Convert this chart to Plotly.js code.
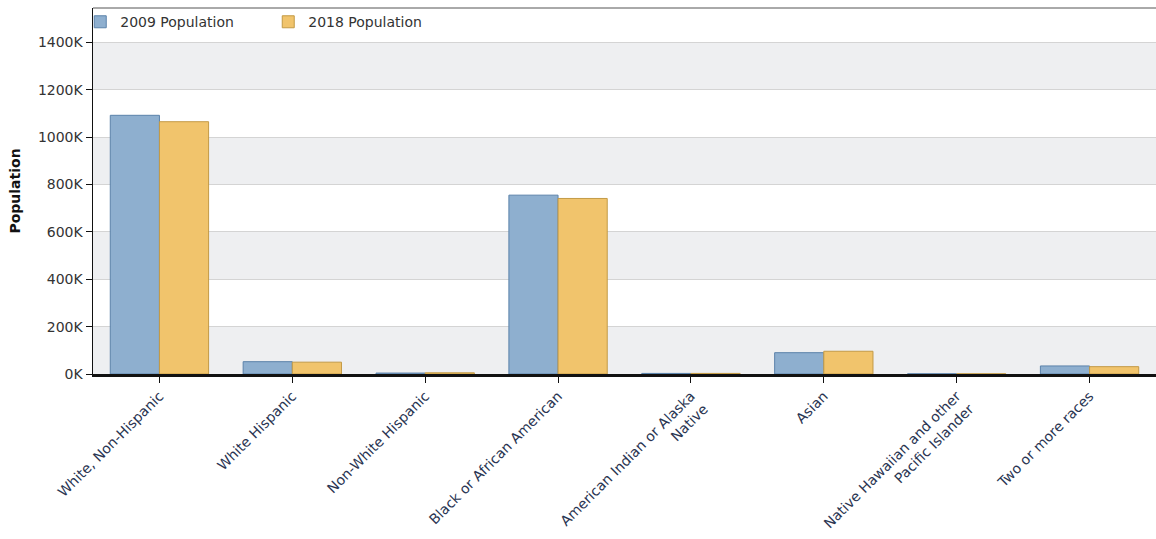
<!DOCTYPE html>
<html>
<head>
<meta charset="utf-8">
<script src="https://cdn.plot.ly/plotly-3.0.1.min.js"></script>
<style>html,body{margin:0;padding:0;background:#fff;}#chart{width:1156px;height:539px;}</style>
</head>
<body>
<div id="chart"></div>
<script>
const categories = [
  "White, Non-Hispanic",
  "White Hispanic",
  "Non-White Hispanic",
  "Black or African American",
  "American Indian or Alaska<br>Native",
  "Asian",
  "Native Hawaiian and other<br>Pacific Islander",
  "Two or more races"
];
const pop2009 = [1092000, 52000, 4000, 755000, 2500, 90000, 600, 34000];
const pop2018 = [1065000, 50000, 5000, 741000, 2500, 96000, 600, 31000];
const yTicks = [0, 200000, 400000, 600000, 800000, 1000000, 1200000, 1400000];
const yTickLabels = ["0K", "200K", "400K", "600K", "800K", "1000K", "1200K", "1400K"];
const yMax = 1545000;

// alternating background bands between ticks
const shapes = [];
const bandEdges = yTicks.concat([yMax]);
for (let i = 0; i < bandEdges.length - 1; i++) {
  if (i % 2 === 0) {
    shapes.push({type: 'rect', xref: 'paper', yref: 'y', x0: 0, x1: 1,
      y0: bandEdges[i], y1: bandEdges[i + 1], fillcolor: '#eeeff1',
      line: {width: 0}, layer: 'below'});
  }
}
// plot frame top edge
shapes.push({type: 'line', xref: 'paper', yref: 'paper', x0: 0, x1: 1, y0: 1, y1: 1,
  line: {color: '#555', width: 1}});

const traces = [
  {type: 'bar', name: '2009 Population', x: categories, y: pop2009,
   marker: {color: '#8eafcf', line: {color: '#5b82aa', width: 1}}},
  {type: 'bar', name: '2018 Population', x: categories, y: pop2018,
   marker: {color: '#f1c46c', line: {color: '#c39a45', width: 1}}}
];

const FONT = 'DejaVu Sans, Verdana, sans-serif';
const layout = {
  width: 1156, height: 539,
  margin: {l: 93, r: 0, t: 8, b: 165},
  paper_bgcolor: '#ffffff', plot_bgcolor: '#ffffff',
  font: {family: FONT, size: 14, color: '#333'},
  barmode: 'group', bargap: 0.26, bargroupgap: 0,
  showlegend: true,
  legend: {orientation: 'h', x: -0.012, y: 1.005, xanchor: 'left', yanchor: 'top',
    bgcolor: 'rgba(255,255,255,0)', borderwidth: 0,
    font: {family: FONT, size: 14, color: '#333'},
    itemwidth: 30, entrywidth: 143, entrywidthmode: 'pixels', tracegroupgap: 0},
  shapes: shapes,
  xaxis: {
    type: 'category', tickangle: -45, showgrid: false,
    showline: true, linecolor: '#111', linewidth: 2.5,
    ticks: 'outside', ticklen: 6, tickcolor: '#111', tickwidth: 1,
    tickfont: {family: FONT, size: 14, color: '#2a3552'},
    zeroline: false, fixedrange: true
  },
  yaxis: {
    range: [0, yMax], tickvals: yTicks, ticktext: yTickLabels,
    showgrid: true, gridcolor: '#d4d4d4', gridwidth: 1,
    showline: true, linecolor: '#111', linewidth: 1.5,
    ticks: 'outside', ticklen: 6, tickcolor: '#111',
    tickfont: {family: FONT, size: 14, color: '#333'},
    zeroline: false,
    title: {text: '<b>Population</b>', font: {family: FONT, size: 14, color: '#111'}, standoff: 14}
  }
};

Plotly.newPlot('chart', traces, layout, {displayModeBar: false, staticPlot: true});
</script>
</body>
</html>
